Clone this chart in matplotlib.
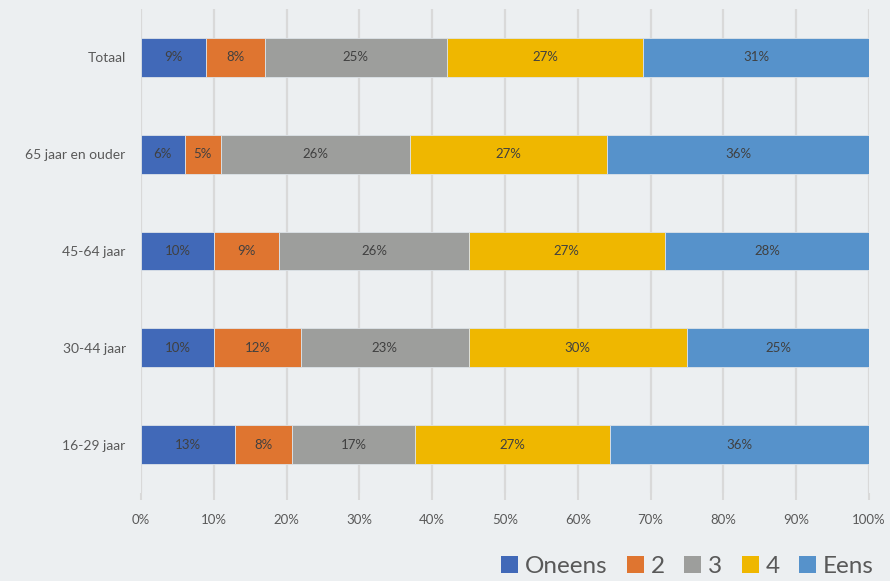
import numpy as np
import matplotlib.pyplot as plt
from matplotlib.ticker import PercentFormatter
from matplotlib.patches import Patch

plt.rcParams['font.family'] = ['Lato', 'DejaVu Sans']

groups = ['Totaal', '65 jaar en ouder', '45-64 jaar', '30-44 jaar', '16-29 jaar']
answers = ['Oneens', '2', '3', '4', 'Eens']
oneens = [9, 6, 10, 10, 13]
score2 = [8, 5, 9, 12, 8]
score3 = [25, 26, 26, 23, 17]
score4 = [27, 27, 27, 30, 27]
eens = [31, 36, 28, 25, 36]

colors = ['#4169B8', '#DF7530', '#9D9E9C', '#EFB700', '#5692CB']
bg = '#ECEFF1'

series = np.array([oneens, score2, score3, score4, eens], dtype=float)
shares = series / series.sum(axis=0) * 100  # 100% stacked per group

fig = plt.figure(figsize=(8.9, 5.81), dpi=100, facecolor=bg)
ax = fig.add_axes([0.1584, 0.1515, 0.818, 0.833], facecolor=bg)

y = np.arange(len(groups))
left = np.zeros(len(groups))
for i, name in enumerate(answers):
    bars = ax.barh(y, shares[i], left=left, height=0.4, color=colors[i],
                   edgecolor='#DDE3E8', linewidth=0.6, label=name, zorder=3)
    for j, rect in enumerate(bars):
        ax.text(left[j] + shares[i][j] / 2, y[j], f'{int(series[i][j])}%',
                ha='center', va='center', fontsize=9.5, color='#404040', zorder=4)
    left += shares[i]

ax.set_xlim(0, 100)
ax.set_ylim(len(groups) - 0.5, -0.5)
ax.set_yticks(y)
ax.set_yticklabels(groups, fontsize=10, color='#595959')
ax.set_xticks(np.arange(0, 101, 10))
ax.xaxis.set_major_formatter(PercentFormatter(decimals=0))
ax.tick_params(axis='x', labelsize=9.5, colors='#595959', length=5, width=1.5,
               color='#D9D9D9', pad=10)
ax.tick_params(axis='y', length=0, pad=11)
ax.grid(axis='x', color='#D9D9D9', linewidth=1.6, zorder=0)
for s in ax.spines.values():
    s.set_visible(False)

handles = [Patch(facecolor=c, edgecolor='none', label=a) for c, a in zip(colors, answers)]
leg = fig.legend(handles=handles, loc='center right', bbox_to_anchor=(0.9985, 0.025),
                 ncol=5, frameon=False, fontsize=17.5, handlelength=0.7, handleheight=0.7,
                 handletextpad=0.3, columnspacing=0.78, borderaxespad=0.2,
                 labelcolor='#595959')

fig.savefig('out.png', dpi=100, facecolor=bg)
